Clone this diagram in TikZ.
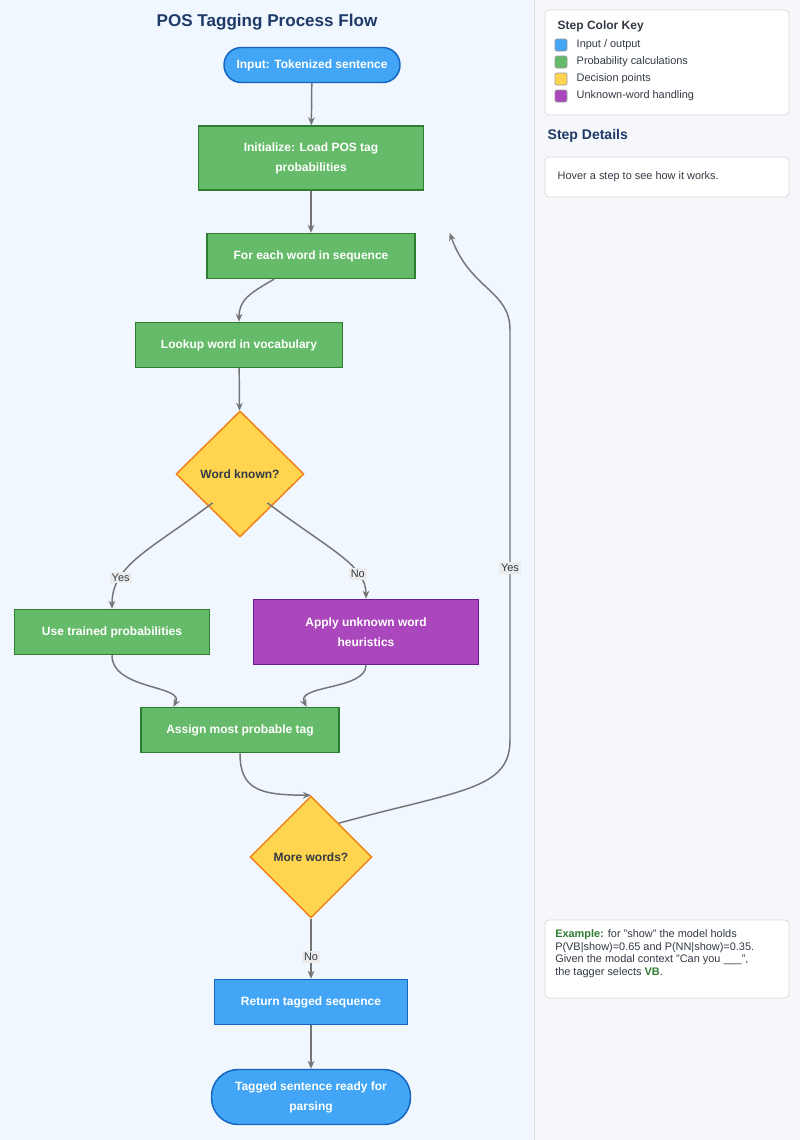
\documentclass[tikz,border=0pt]{standalone}
\usepackage{fontspec}
\setmainfont{Liberation Sans}
\usetikzlibrary{shapes.geometric,arrows.meta}
\definecolor{bgl}{HTML}{F0F7FE}
\definecolor{bgr}{HTML}{F5F7FA}
\definecolor{ioF}{HTML}{42A5F5}\definecolor{ioD}{HTML}{1565C0}
\definecolor{prF}{HTML}{66BB6A}\definecolor{prD}{HTML}{2E7D32}
\definecolor{deF}{HTML}{FFD54F}\definecolor{deD}{HTML}{F57F17}
\definecolor{unF}{HTML}{AB47BC}\definecolor{unD}{HTML}{6A1B9A}
\definecolor{edge}{HTML}{757575}
\definecolor{ttl}{HTML}{1F3A68}
\definecolor{txt}{HTML}{333A45}
\definecolor{exg}{HTML}{2E7D32}
\begin{document}
\begin{tikzpicture}[x=0.75pt,y=-0.75pt,
  base/.style={draw,line width=1.1pt,text=white,font=\fontsize{9}{15}\selectfont\bfseries,align=center,inner sep=2pt},
  io/.style={base,fill=ioF,draw=ioD},
  pr/.style={base,fill=prF,draw=prD},
  un/.style={base,fill=unF,draw=unD},
  dec/.style={base,shape=diamond,fill=deF,draw=deD,text=txt,inner sep=0pt},
  stad/.style={rounded corners=13pt},
  conn/.style={draw=edge,line width=1.1pt,-{Stealth[length=6pt,width=5pt]}},
  lab/.style={fill=black!8,text=txt,font=\fontsize{8.2}{10}\selectfont,inner sep=1.5pt},
  panel/.style={draw=black!15,fill=white,rounded corners=3pt,line width=0.6pt},
  key/.style={draw=black!40,rounded corners=1.5pt,minimum size=9pt,inner sep=0pt,line width=0.5pt},
  kt/.style={anchor=west,text=txt,font=\fontsize{8.2}{10}\selectfont},
]
\useasboundingbox (0,0) rectangle (800,1140);
\fill[bgl] (0,0) rectangle (534,1140);
\fill[bgr] (534,0) rectangle (800,1140);
\draw[black!12,line width=0.6pt] (534,0) -- (534,1140);

\node[text=ttl,font=\fontsize{12.8}{15}\selectfont\bfseries] (title) at (267,22) {POS Tagging Process Flow};

\node[io,rounded corners=13pt,minimum width=132pt,minimum height=26.25pt] (start) at (312,65) {Input: Tokenized sentence};
\node[pr,minimum width=168.75pt,minimum height=48pt] (init) at (311,158) {Initialize: Load POS tag\\probabilities};
\node[pr,minimum width=156pt,minimum height=33.75pt] (each) at (311,256) {For each word in sequence};
\node[pr,minimum width=155.25pt,minimum height=33.75pt] (look) at (239,345) {Lookup word in vocabulary};
\node[dec,minimum width=96pt,minimum height=94.5pt] (known) at (240,474) {Word known?};
\node[pr,minimum width=146.25pt,minimum height=33.75pt] (trained) at (112,632) {Use trained probabilities};
\node[un,minimum width=168.75pt,minimum height=48.75pt] (unk) at (366,632) {Apply unknown word\\heuristics};
\node[pr,minimum width=148.5pt,minimum height=33.75pt] (assign) at (240,730) {Assign most probable tag};
\node[dec,minimum width=91.5pt,minimum height=91.5pt] (more) at (311,857) {More words?};
\node[io,minimum width=144.75pt,minimum height=33.75pt] (ret) at (311,1002) {Return tagged sequence};
\node[io,rounded corners=20pt,minimum width=149.25pt,minimum height=41.25pt] (fin) at (311,1097) {Tagged sentence ready for\\parsing};

\draw[conn] (start) -- (init);
\draw[conn] (init) -- (each);
\draw[conn] (each.south) ++(-37,0) coordinate (e1) .. controls (250,293) and (239,300) .. (look.north);
\draw[conn] (look) -- (known);
\draw[conn] (known.south west) ++(5,-3) .. controls (150,550) and (112,565) .. (trained.north) node[lab,pos=0.72] {Yes};
\draw[conn] (known.south east) ++(-5,-3) .. controls (330,550) and (366,565) .. (unk.north) node[lab,pos=0.72] {No};
\draw[conn] (trained.south) .. controls (112,690) and (185,685) .. ([xshift=-50]assign.north);
\draw[conn] (unk.south) .. controls (366,690) and (295,685) .. ([xshift=50]assign.north);
\draw[conn] (assign.south) .. controls (240,790) and (260,795) .. (more.north);
\draw[conn] (more.north east) ++(-3,-3) .. controls (460,790) and (510,790) .. (510,740) -- (510,330) .. controls (510,290) and (470,290) .. ([xshift=104]each.north) node[pos=0.0,coordinate]{};
\node[lab] (yes3) at (510,568) {Yes};
\draw[conn] (more) -- (ret) node[lab,midway,yshift=-6] {No};
\draw[conn] (ret) -- (fin);

% right panel
\draw[panel] (545,10) rectangle (789,115);
\node[anchor=west,text=txt,font=\fontsize{9}{10}\selectfont\bfseries] (kh) at (553,26) {Step Color Key};
\node[key,fill=ioF] (k1) at (561,45) {}; \node[kt] at (572,45) {Input / output};
\node[key,fill=prF] (k2) at (561,62) {}; \node[kt] at (572,62) {Probability calculations};
\node[key,fill=deF] (k3) at (561,79) {}; \node[kt] at (572,79) {Decision points};
\node[key,fill=unF] (k4) at (561,96) {}; \node[kt] at (572,96) {Unknown-word handling};
\node[anchor=west,text=ttl,font=\fontsize{10.5}{12}\selectfont\bfseries] (sd) at (543,136) {Step Details};
\draw[panel] (545,157) rectangle (789,197);
\node[kt] (hov) at (553,177) {Hover a step to see how it works.};
\draw[panel] (545,920) rectangle (789,998);
\node[anchor=north west,text=txt,font=\fontsize{8.2}{9.6}\selectfont,align=left,inner sep=0pt] (ex) at (555,929)
{{\color{exg}\bfseries Example:} for "show" the model holds\\P(VB|show)=0.65 and P(NN|show)=0.35.\\Given the modal context "Can you \_\_\_",\\the tagger selects {\color{exg}\bfseries VB}.};
\end{tikzpicture}
\end{document}
